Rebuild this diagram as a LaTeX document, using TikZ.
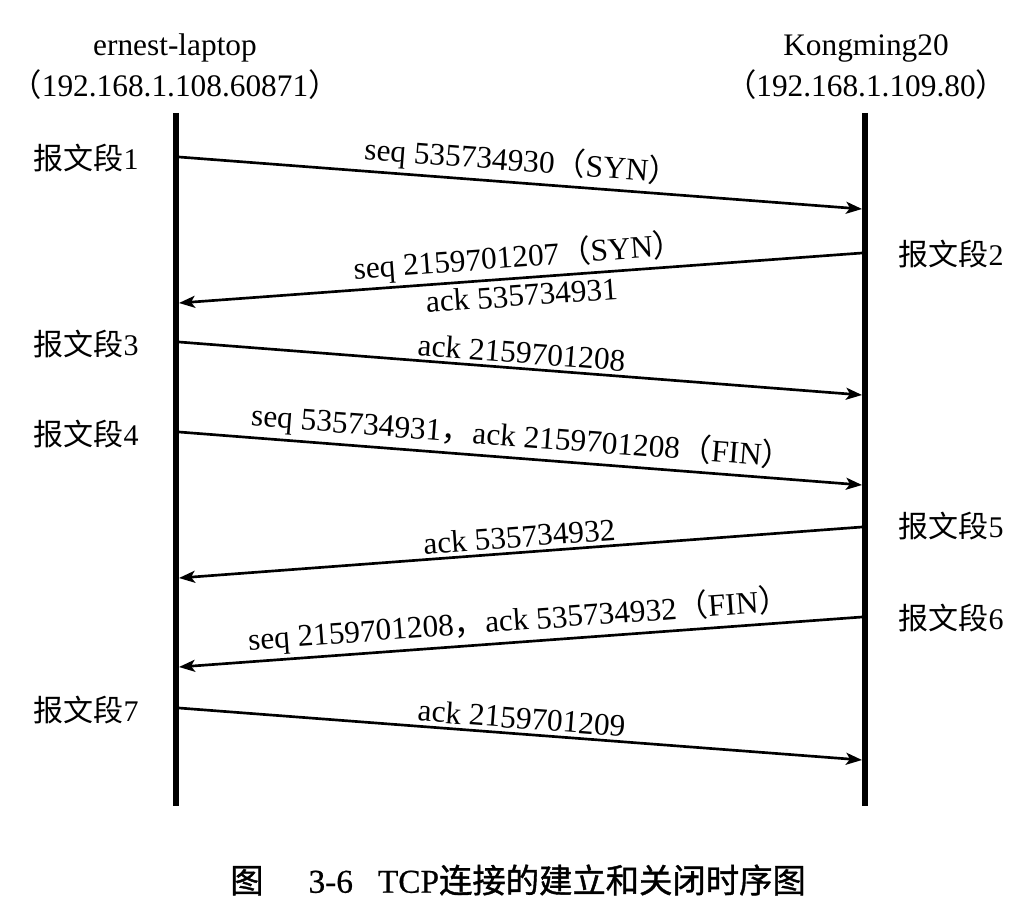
\documentclass[tikz,border=0pt]{standalone}
\usepackage{fontspec}
\setmainfont{Liberation Serif}
\newfontfamily\cjk{Noto Sans CJK SC}
\newfontfamily\cjkcap[FakeBold=1.2]{Noto Sans CJK SC}
\newfontfamily\latcap[FakeBold=0.6]{Liberation Serif}
\usetikzlibrary{arrows.meta}
\begin{document}
\begin{tikzpicture}[x=0.75pt,y=-0.75pt,
  lifeline/.style={line width=4.8pt},
  msg/.style={line width=2pt,-{Stealth[length=12pt,width=9pt,inset=3pt]}},
  txt/.style={font=\fontsize{23.5}{27}\selectfont, inner sep=1pt},
  lbl/.style={txt, midway, sloped, inner sep=3.5pt},
  seglabel/.style={font=\fontsize{22.5}{26}\selectfont, inner sep=0pt},
  caption/.style={font=\fontsize{25}{30}\selectfont, inner sep=0pt},
  ]
\useasboundingbox (0,0) rectangle (1030,916);
% hosts
\node[txt] (hostA) at (175,48) {ernest-laptop};
\node[txt] (ipA) at (175,85) {{\cjk （}192.168.1.108.60871{\cjk ）}};
\node[txt] (hostB) at (866,48) {Kongming20};
\node[txt] (ipB) at (866,85) {{\cjk （}192.168.1.109.80{\cjk ）}};
% lifelines
\coordinate (A0) at (176,113);
\coordinate (A1) at (176,806);
\coordinate (B0) at (865,113);
\coordinate (B1) at (865,806);
\draw[lifeline] (A0) -- (A1);
\draw[lifeline] (B0) -- (B1);
% message end points
\coordinate (a1) at (179,157); \coordinate (b1) at (862,209);
\coordinate (a2) at (179,303); \coordinate (b2) at (862,253);
\coordinate (a3) at (179,342); \coordinate (b3) at (862,395);
\coordinate (a4) at (179,432); \coordinate (b4) at (862,485);
\coordinate (a5) at (179,578); \coordinate (b5) at (862,527);
\coordinate (a6) at (179,667); \coordinate (b6) at (862,617);
\coordinate (a7) at (179,708); \coordinate (b7) at (862,760);
% messages
\draw[msg] (a1) -- (b1);
\draw[msg] (b2) -- (a2);
\draw[msg] (a3) -- (b3);
\draw[msg] (a4) -- (b4);
\draw[msg] (b5) -- (a5);
\draw[msg] (b6) -- (a6);
\draw[msg] (a7) -- (b7);
% message labels
\path (a1) -- (b1) node[lbl, above] (m1) {seq 535734930{\cjk （}SYN{\cjk ）}};
\path (a2) -- (b2) node[lbl, above, inner sep=3pt] (m2) {seq 2159701207{\cjk （}SYN{\cjk ）}};
\path (a2) -- (b2) node[lbl, below, inner sep=4.5pt] (m2b) {ack 535734931};
\path (a3) -- (b3) node[lbl, above] (m3) {ack 2159701208};
\path (a4) -- (b4) node[lbl, above] (m4) {seq 535734931{\cjk ，}ack 2159701208{\cjk （}FIN{\cjk ）}};
\path (a5) -- (b5) node[lbl, above] (m5) {ack 535734932};
\path (a6) -- (b6) node[lbl, above] (m6) {seq 2159701208{\cjk ，}ack 535734932{\cjk （}FIN{\cjk ）}};
\path (a7) -- (b7) node[lbl, above] (m7) {ack 2159701209};
% segment labels
\node[seglabel] (s1) at (86,158) {{\cjk 报文段}1};
\node[seglabel] (s2) at (951,254) {{\cjk 报文段}2};
\node[seglabel] (s3) at (86,344) {{\cjk 报文段}3};
\node[seglabel] (s4) at (86,434) {{\cjk 报文段}4};
\node[seglabel] (s5) at (951,526) {{\cjk 报文段}5};
\node[seglabel] (s6) at (951,618) {{\cjk 报文段}6};
\node[seglabel] (s7) at (86,710) {{\cjk 报文段}7};
% caption
\node[caption] (cap) at (518,880) {{\cjkcap 图}\hspace{1.35em}{\latcap 3-6}\hspace{0.75em}{\latcap TCP}{\cjkcap 连接的建立和关闭时序图}};
\end{tikzpicture}
\end{document}
